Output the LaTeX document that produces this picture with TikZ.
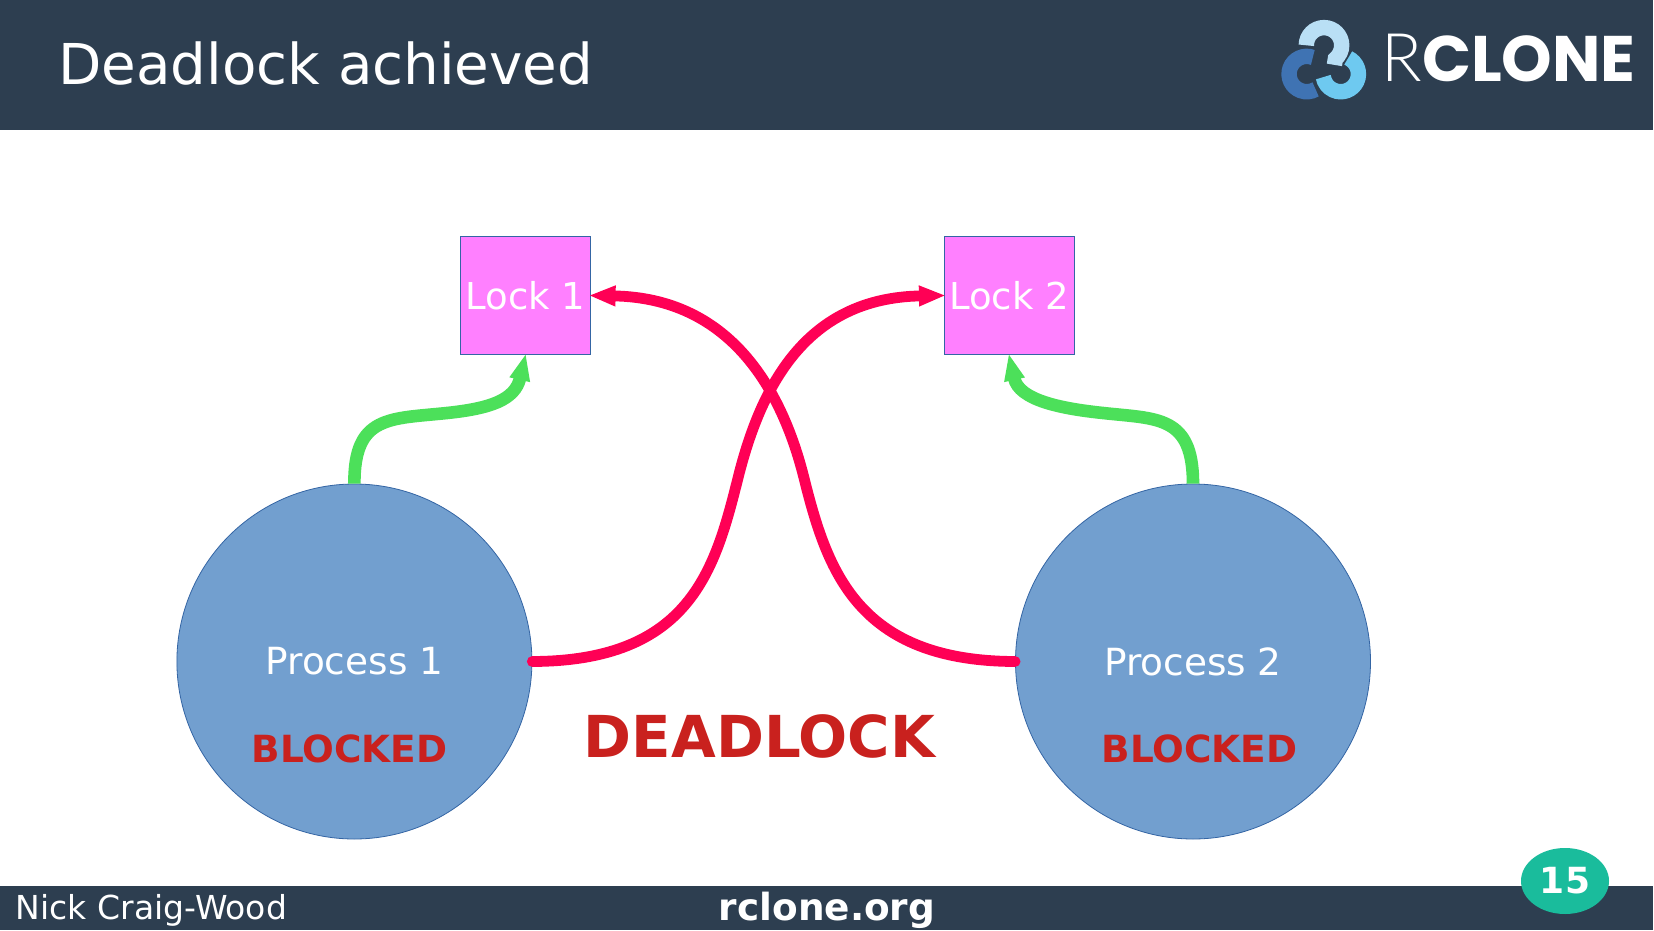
\documentclass[tikz,border=0pt]{standalone}
\usepackage{fontspec}
\setmainfont{DejaVu Sans}
\newfontfamily\logolight{Lato Light}
\newfontfamily\logobold{Poppins}[BoldFont=* Bold]
\usetikzlibrary{arrows.meta,shapes.geometric}
\definecolor{bandcol}{HTML}{2D3E50}
\definecolor{circfill}{HTML}{729FCF}
\definecolor{circline}{HTML}{3465A4}
\definecolor{lockfill}{HTML}{FF80FF}
\definecolor{redline}{HTML}{FF0055}
\definecolor{greenline}{HTML}{4CE05A}
\definecolor{redtext}{HTML}{C9211E}
\definecolor{teal15}{HTML}{1ABC9C}
\definecolor{logolt}{HTML}{B9DFF5}
\definecolor{logomid}{HTML}{6EC9F0}
\definecolor{logodk}{HTML}{3F73B3}
\tikzset{
 procnode/.style={circle,draw=circline,fill=circfill,line width=0.4pt,minimum size=177.5pt,inner sep=0pt,text=white,font=\fontsize{18.7}{20}\selectfont},
 locknode/.style={rectangle,draw=circline,fill=lockfill,line width=0.5pt,minimum width=65pt,minimum height=59pt,inner sep=0pt,text=white,font=\fontsize{18.5}{20}\selectfont},
 holdline/.style={draw=greenline,line width=6.3pt,-{Triangle[length=13.5pt,width=9.5pt]},shorten >=-0.8pt},
 waitline/.style={draw=redline,line width=5.4pt,-{Triangle[length=13.5pt,width=9.5pt]},line cap=round,shorten >=-1.2pt},
 blockedtext/.style={anchor=base,text=redtext,inner sep=0pt,font=\bfseries\fontsize{18.7}{20}\selectfont},
 logoarc/.style={line width=7.7pt,line cap=butt},
}
\begin{document}
\begin{tikzpicture}[x=0.5pt,y=-0.5pt]
\useasboundingbox (0,0) rectangle (1654,931);
\fill[white] (0,0) rectangle (1654,931);
\fill[bandcol] (0,0) rectangle (1653,130);
\fill[bandcol] (0,886) rectangle (1653,930);
\node[anchor=base west,inner sep=0pt,text=white,font=\fontsize{28.15}{32}\selectfont] (title) at (58,84.5) {Deadlock achieved};
% logo
\draw[logoarc,draw=logodk] (1312.8,57.4) arc (-70:-300:17.7);
\draw[logoarc,draw=logomid] (1348.2,58) arc (-65:170:17.7);
\draw[logoarc,draw=logolt] (1306.3,45.3) arc (180:410:17.7) -- ++(-1,6);
\node[anchor=base west,inner sep=0pt,text=white] (logotext) at (1381,82) {\logolight\fontsize{33.5}{34}\selectfont R\logobold\bfseries\fontsize{32.2}{34}\selectfont CLONE};
% footer
\node[anchor=base west,inner sep=0pt,text=white,font=\fontsize{16.5}{18}\selectfont] (author) at (15.5,919) {Nick Craig-Wood};
\node[anchor=base,inner sep=0pt,text=white,font=\bfseries\fontsize{18.7}{20}\selectfont] (site) at (827,920) {rclone.org};
\node[ellipse,fill=teal15,minimum width=44pt,minimum height=33pt,inner sep=0pt] (pagebg) at (1565,881) {};
\node[anchor=base,inner sep=0pt,text=white,font=\bfseries\fontsize{18}{20}\selectfont] (page) at (1565,893) {15};
% main nodes
\node[procnode] (p1) at (354.4,661.5) {Process 1};
\node[procnode] (p2) at (1193,661.5) {Process 2};
\node[locknode] (l1) at (525.5,295.5) {Lock 1};
\node[locknode] (l2) at (1009,295.5) {Lock 2};
\node[blockedtext] (b1) at (349.5,762) {BLOCKED};
\node[blockedtext] (b2) at (1199.6,762) {BLOCKED};
\node[anchor=base,text=redtext,inner sep=0pt,font=\bfseries\fontsize{28.9}{32}\selectfont] (dead) at (759.5,757) {DEADLOCK};
% connectors
\draw[holdline] (p1.north) .. controls (354,415) and (390,419) .. (447,413) .. controls (490,408.5) and (515,400) .. (l1.south);
\draw[holdline] (p2.north) .. controls (1193,415) and (1157,419) .. (1103,413) .. controls (1060,408.5) and (1019,400) .. (l2.south);
\draw[waitline] (p1.east) .. controls (690,661) and (715,570) .. (738,478) .. controls (761,386) and (806,298) .. (l2.west);
\draw[waitline] (p2.west) .. controls (857,661) and (827,570) .. (804,478) .. controls (781,386) and (728,298) .. (l1.east);
\end{tikzpicture}
\end{document}
